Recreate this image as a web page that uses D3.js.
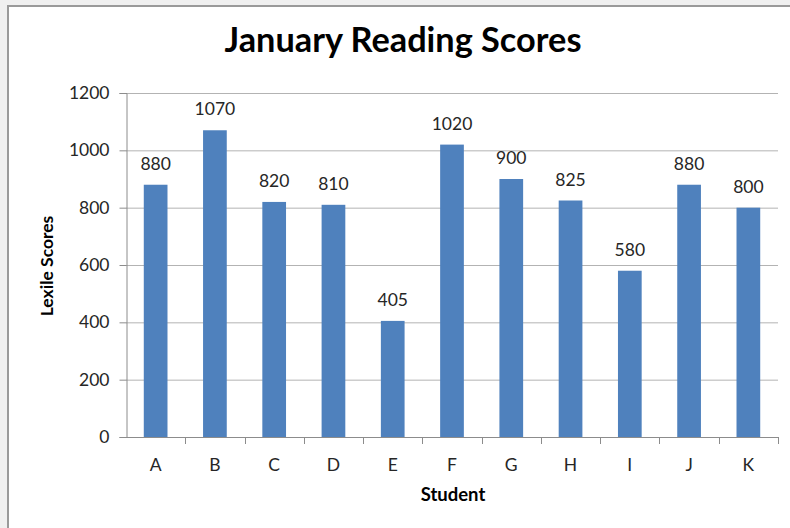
<!DOCTYPE html>
<html>
<head>
<meta charset="utf-8">
<script src="https://cdn.jsdelivr.net/npm/d3@7"></script>
<style>
  html, body { margin: 0; padding: 0; background: #f0f0f0; }
  svg { display: block; }
</style>
</head>
<body>
<script>
const students = ["A","B","C","D","E","F","G","H","I","J","K"];
const scores = [880, 1070, 820, 810, 405, 1020, 900, 825, 580, 880, 800];
const yTicks = [0, 200, 400, 600, 800, 1000, 1200];
const titleText = "January Reading Scores";
const xTitle = "Student";
const yTitle = "Lexile Scores";

const W = 790, H = 528;
const font = "Lato, 'Open Sans', sans-serif";
const svg = d3.select("body").append("svg").attr("width", W).attr("height", H);

// chart frame
svg.append("rect").attr("x", 8).attr("y", 6).attr("width", W + 10).attr("height", H + 10)
  .attr("fill", "#ffffff").attr("stroke", "#9a9a9a").attr("stroke-width", 2);

const plot = {left: 126, right: 778, top: 93, bottom: 437};
const x = d3.scaleBand().domain(students).range([plot.left, plot.right]).paddingInner(0.6).paddingOuter(0.3);
const xb = d3.scaleBand().domain(students).range([plot.left, plot.right]);
const y = d3.scaleLinear().domain([0, 1200]).range([plot.bottom, plot.top]);

// gridlines
svg.append("g").selectAll("line").data(yTicks.filter(d => d > 0)).join("line")
  .attr("x1", plot.left).attr("x2", plot.right)
  .attr("y1", d => y(d) + 0.5).attr("y2", d => y(d) + 0.5)
  .attr("stroke", "#b3b3b3").attr("stroke-width", 1);

// bars
svg.append("g").selectAll("rect").data(students).join("rect")
  .attr("x", (d) => x(d)).attr("width", x.bandwidth())
  .attr("y", (d, i) => y(scores[i])).attr("height", (d, i) => y(0) - y(scores[i]))
  .attr("fill", "#4f81bd");

// y axis
const yAxis = d3.axisLeft(y).tickValues(yTicks).tickSize(7).tickPadding(10).tickFormat(d3.format("d"));
const gy = svg.append("g").attr("transform", `translate(${plot.left + 0.5},0)`).call(yAxis);
gy.select(".domain").attr("stroke", "#8c8c8c");
gy.selectAll(".tick line").attr("stroke", "#8c8c8c");
gy.selectAll(".tick text").attr("font-family", font).attr("font-size", 17.5).attr("fill", "#262626");

// x axis (ticks at category boundaries)
svg.append("line").attr("x1", plot.left).attr("x2", plot.right)
  .attr("y1", plot.bottom + 0.5).attr("y2", plot.bottom + 0.5).attr("stroke", "#8c8c8c");
const bounds = students.map(d => xb(d)).concat([plot.right]);
svg.append("g").selectAll("line").data(bounds.slice(1)).join("line")
  .attr("x1", d => Math.round(d) + 0.5).attr("x2", d => Math.round(d) + 0.5)
  .attr("y1", plot.bottom).attr("y2", plot.bottom + 7).attr("stroke", "#8c8c8c");
svg.append("g").selectAll("text").data(students).join("text")
  .attr("x", d => xb(d) + xb.bandwidth() / 2).attr("y", 471)
  .attr("text-anchor", "middle").attr("font-family", font).attr("font-size", 17.5).attr("fill", "#262626")
  .text(d => d);

// data labels
svg.append("g").selectAll("text").data(students).join("text")
  .attr("x", d => x(d) + x.bandwidth() / 2).attr("y", (d, i) => y(scores[i]) - 15)
  .attr("text-anchor", "middle").attr("font-family", font).attr("font-size", 17.5).attr("fill", "#262626")
  .text((d, i) => scores[i]);

// title
const t = svg.append("text").attr("x", 403).attr("y", 52).attr("text-anchor", "middle")
  .attr("font-family", font).attr("font-weight", "bold").attr("font-size", 30).attr("fill", "#000")
  .text(titleText);
const tw = t.node().getComputedTextLength();
t.attr("font-size", 30 * 357 / tw);

// axis titles
svg.append("text").attr("x", 453).attr("y", 501).attr("text-anchor", "middle")
  .attr("font-family", font).attr("font-weight", "bold").attr("font-size", 18.5).attr("fill", "#000")
  .text(xTitle);
svg.append("text").attr("transform", "translate(53,266) rotate(-90)").attr("text-anchor", "middle")
  .attr("font-family", font).attr("font-weight", "bold").attr("font-size", 17.5).attr("fill", "#000")
  .text(yTitle);
</script>
</body>
</html>
